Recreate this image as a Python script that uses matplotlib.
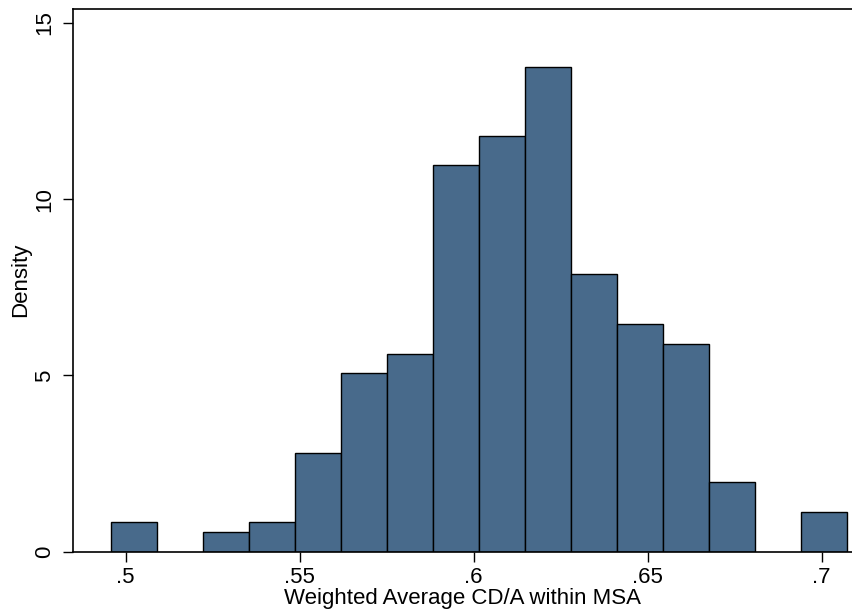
import matplotlib
matplotlib.use("Agg")
import matplotlib.pyplot as plt
import numpy as np

# Histogram data (density per bin)
bin_start = 0.49569
bin_width = 0.01323
densities = [0.85, 0.0, 0.567, 0.85, 2.81, 5.06, 5.62, 10.96, 11.79, 13.76,
             7.87, 6.46, 5.90, 1.97, 0.0, 1.12]
x_ticks = [0.5, 0.55, 0.6, 0.65, 0.7]
x_ticklabels = [".5", ".55", ".6", ".65", ".7"]
y_ticks = [0, 5, 10, 15]
y_ticklabels = ["0", "5", "10", "15"]
x_label = "Weighted Average CD/A within MSA"
y_label = "Density"

plt.rcParams['font.family'] = ['Liberation Sans', 'DejaVu Sans']

W, H = 852, 616
fig = plt.figure(figsize=(W / 100, H / 100), dpi=100)
left, right, top, bottom = 73.3, 852, 8.7, 551.7
ax = fig.add_axes([left / W, 1 - bottom / H, (right - left) / W, (bottom - top) / H])

lefts = bin_start + bin_width * np.arange(len(densities))
heights = np.array(densities)
mask = heights > 0
ax.bar(lefts[mask], heights[mask], width=bin_width, align='edge',
       color='#486a8b', edgecolor='black', linewidth=1.0)

ax.set_xlim(0.48494, 0.70871)
ax.set_ylim(0, 15.40)

fs = 16
ax.set_xticks(x_ticks)
ax.set_xticklabels(x_ticklabels)
ax.set_yticks(y_ticks)
ax.set_yticklabels(y_ticklabels, rotation=90, va='center')

ax.tick_params(axis='x', length=7, width=1.0, labelsize=fs, pad=4)
ax.tick_params(axis='y', length=7, width=1.0, labelsize=fs, pad=6)

for s in ['left', 'bottom', 'top']:
    ax.spines[s].set_linewidth(1.2)
ax.spines['right'].set_visible(False)

ax.set_xlabel(x_label, fontsize=fs, labelpad=0)
ax.set_ylabel(y_label, fontsize=fs, labelpad=2)

fig.savefig("out.png", dpi=100)
